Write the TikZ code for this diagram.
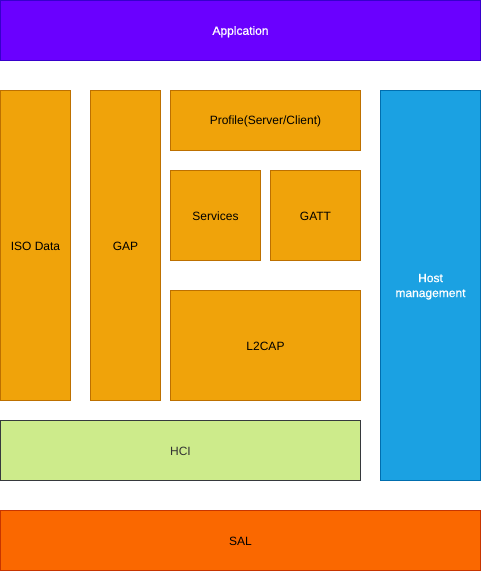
\documentclass[tikz,border=0pt]{standalone}
\usepackage{fontspec}
\setmainfont{Liberation Sans}
\newfontfamily\whitefont{Liberation Sans}[FakeBold=0.7]
\definecolor{appfill}{HTML}{6A00FF}\definecolor{appline}{HTML}{3700CC}
\definecolor{orfill}{HTML}{F0A30A}\definecolor{orline}{HTML}{BD7000}
\definecolor{blfill}{HTML}{1BA1E2}\definecolor{blline}{HTML}{006EAF}
\definecolor{grfill}{HTML}{CDEB8B}\definecolor{grline}{HTML}{36393D}
\definecolor{safill}{HTML}{FA6800}\definecolor{saline}{HTML}{C73500}
\begin{document}
\begin{tikzpicture}[x=1pt,y=-1pt,
  blk/.style={draw,line width=1pt,font=\fontsize{12}{14}\selectfont,align=center},
  lbl/.style={yshift=-1.2pt},
  wlbl/.style={lbl,text=white,font=\whitefont\fontsize{12}{15}\selectfont},
  app/.style={blk,fill=appfill,draw=appline},
  orb/.style={blk,fill=orfill,draw=orline,text=black},
  blb/.style={blk,fill=blfill,draw=blline},
  grb/.style={blk,fill=grfill,draw=grline,text=black!80},
  sab/.style={blk,fill=safill,draw=saline,text=black}]
\useasboundingbox (0,0) rectangle (481,571);
\path[app] (0.5,0.5) rectangle node[wlbl] (a) {Applcation} (480.5,60.5);
\path[orb] (0.5,90.5) rectangle node[lbl] (iso) {ISO Data} (70.5,400.5);
\path[orb] (90.5,90.5) rectangle node[lbl] (gap) {GAP} (160.5,400.5);
\path[orb] (170.5,90.5) rectangle node[lbl] (prof) {Profile(Server/Client)} (360.5,150.5);
\path[orb] (170.5,170.5) rectangle node[lbl] (serv) {Services} (260.5,260.5);
\path[orb] (270.5,170.5) rectangle node[lbl] (gatt) {GATT} (360.5,260.5);
\path[orb] (170.5,290.5) rectangle node[lbl] (l2) {L2CAP} (360.5,400.5);
\path[blb] (380.5,90.5) rectangle node[wlbl] (host) {Host\\management} (480.5,480.5);
\path[grb] (0.5,420.5) rectangle node[lbl] (hci) {HCI} (360.5,480.5);
\path[sab] (0.5,510.5) rectangle node[lbl] (sal) {SAL} (480.5,570.5);
\end{tikzpicture}
\end{document}
